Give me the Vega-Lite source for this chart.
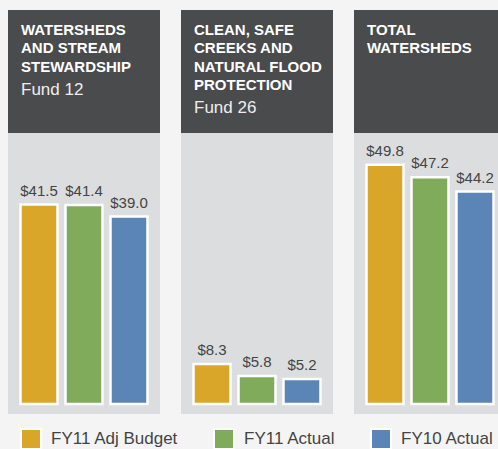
{
  "$schema": "https://vega.github.io/schema/vega-lite/v6.json",
  "background": "#f4f4f4",
  "padding": {"left": 8, "top": 10, "right": 0, "bottom": 0},
  "config": {
    "view": {"stroke": null},
    "font": "Liberation Sans",
    "concat": {"spacing": 0},
    "legend": {
      "orient": "bottom",
      "direction": "horizontal",
      "title": null,
      "symbolType": "square",
      "symbolSize": 400,
      "symbolStrokeColor": "#ffffff",
      "symbolStrokeWidth": 2,
      "symbolOpacity": 1,
      "labelFont": "Liberation Sans",
      "labelFontSize": 17,
      "labelColor": "#444444",
      "labelOffset": 9,
      "columnPadding": 31,
      "padding": 12,
      "offset": 2
    }
  },
  "datasets": {
    "headers": [
      {"panel": "Watersheds and Stream Stewardship", "line": 1, "text": "WATERSHEDS", "kind": "title"},
      {"panel": "Watersheds and Stream Stewardship", "line": 2, "text": "AND STREAM", "kind": "title"},
      {"panel": "Watersheds and Stream Stewardship", "line": 3, "text": "STEWARDSHIP", "kind": "title"},
      {"panel": "Watersheds and Stream Stewardship", "line": 4, "text": "Fund 12", "kind": "sub"},
      {"panel": "Clean, Safe Creeks and Natural Flood Protection", "line": 1, "text": "CLEAN, SAFE", "kind": "title"},
      {"panel": "Clean, Safe Creeks and Natural Flood Protection", "line": 2, "text": "CREEKS AND", "kind": "title"},
      {"panel": "Clean, Safe Creeks and Natural Flood Protection", "line": 3, "text": "NATURAL FLOOD", "kind": "title"},
      {"panel": "Clean, Safe Creeks and Natural Flood Protection", "line": 4, "text": "PROTECTION", "kind": "title"},
      {"panel": "Clean, Safe Creeks and Natural Flood Protection", "line": 5, "text": "Fund 26", "kind": "sub"},
      {"panel": "Total Watersheds", "line": 1, "text": "TOTAL", "kind": "title"},
      {"panel": "Total Watersheds", "line": 2, "text": "WATERSHEDS", "kind": "title"}
    ],
    "bars": [
      {"panel": "Watersheds and Stream Stewardship", "series": "FY11 Adj Budget", "value": 41.5},
      {"panel": "Watersheds and Stream Stewardship", "series": "FY11 Actual", "value": 41.4},
      {"panel": "Watersheds and Stream Stewardship", "series": "FY10 Actual", "value": 39.0},
      {"panel": "Clean, Safe Creeks and Natural Flood Protection", "series": "FY11 Adj Budget", "value": 8.3},
      {"panel": "Clean, Safe Creeks and Natural Flood Protection", "series": "FY11 Actual", "value": 5.8},
      {"panel": "Clean, Safe Creeks and Natural Flood Protection", "series": "FY10 Actual", "value": 5.2},
      {"panel": "Total Watersheds", "series": "FY11 Adj Budget", "value": 49.8},
      {"panel": "Total Watersheds", "series": "FY11 Actual", "value": 47.2},
      {"panel": "Total Watersheds", "series": "FY10 Actual", "value": 44.2}
    ]
  },
  "vconcat": [
    {
      "data": {"name": "headers"},
      "facet": {
        "column": {
          "field": "panel", "type": "nominal", "header": null,
          "sort": ["Watersheds and Stream Stewardship", "Clean, Safe Creeks and Natural Flood Protection", "Total Watersheds"]
        }
      },
      "spacing": 21,
      "spec": {
        "width": 152,
        "height": 123,
        "view": {"fill": "#4a4b4d", "stroke": null},
        "layer": [
          {
            "transform": [{"filter": "datum.kind === 'title'"}],
            "mark": {"type": "text", "x": 13, "align": "left", "baseline": "alphabetic", "fontSize": 15, "fontWeight": "bold", "color": "#ffffff"},
            "encoding": {
              "y": {"field": "line", "type": "quantitative", "scale": {"domain": [1, 5], "range": [25, 98]}, "axis": null},
              "text": {"field": "text", "type": "nominal"}
            }
          },
          {
            "transform": [{"filter": "datum.kind === 'sub'"}],
            "mark": {"type": "text", "x": 13, "dy": 5, "align": "left", "baseline": "alphabetic", "fontSize": 17, "fontWeight": "normal", "color": "#eeeeee"},
            "encoding": {
              "y": {"field": "line", "type": "quantitative", "scale": {"domain": [1, 5], "range": [25, 98]}, "axis": null},
              "text": {"field": "text", "type": "nominal"}
            }
          }
        ]
      }
    },
    {
      "data": {"name": "bars"},
      "facet": {
        "column": {
          "field": "panel", "type": "nominal", "header": null,
          "sort": ["Watersheds and Stream Stewardship", "Clean, Safe Creeks and Natural Flood Protection", "Total Watersheds"]
        }
      },
      "spacing": 21,
      "spec": {
        "width": 152,
        "height": 281,
        "view": {"fill": "#dcdddf", "stroke": null},
        "encoding": {
          "x": {
            "field": "series", "type": "nominal",
            "sort": ["FY11 Adj Budget", "FY11 Actual", "FY10 Actual"],
            "scale": {"paddingInner": 0.178, "paddingOuter": 0.278},
            "axis": null
          },
          "y": {
            "field": "value", "type": "quantitative",
            "scale": {"domain": [-2.1, 56.4], "nice": false, "zero": false},
            "axis": null
          }
        },
        "layer": [
          {
            "mark": {"type": "bar", "stroke": "#ffffff", "strokeWidth": 2.5},
            "encoding": {
              "y2": {"datum": 0},
              "color": {
                "field": "series", "type": "nominal",
                "scale": {
                  "domain": ["FY11 Adj Budget", "FY11 Actual", "FY10 Actual"],
                  "range": ["#d9a62a", "#7fab5b", "#5b84b7"]
                }
              }
            }
          },
          {
            "mark": {"type": "text", "baseline": "alphabetic", "dy": -9, "fontSize": 15, "color": "#444444"},
            "encoding": {
              "text": {"field": "value", "type": "quantitative", "format": "$.1f"}
            }
          }
        ]
      }
    }
  ]
}
